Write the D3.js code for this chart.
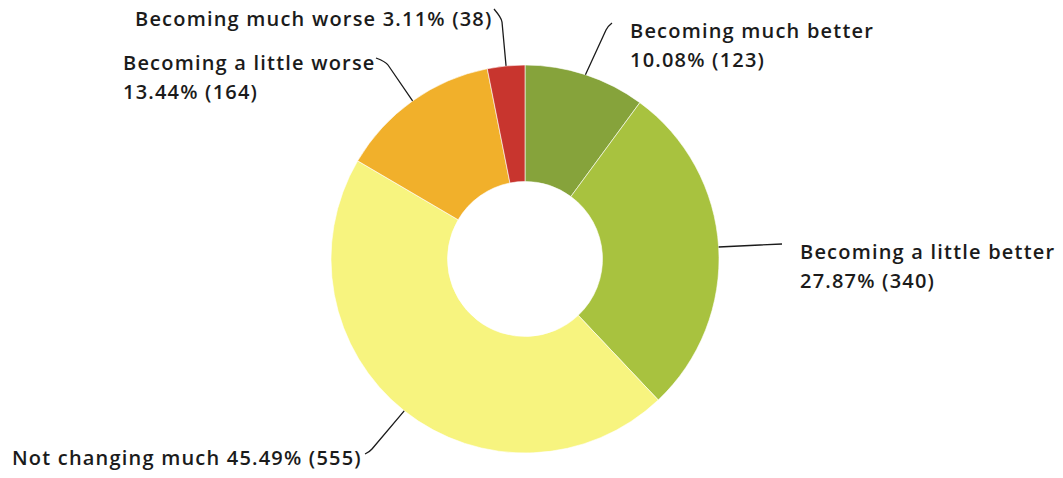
<!DOCTYPE html>
<html>
<head>
<meta charset="utf-8">
<script src="https://cdn.jsdelivr.net/npm/d3@7"></script>
<style>
  body { margin: 0; background: #fff; }
  text { font-family: "Open Sans", sans-serif; font-weight: 600; font-size: 20px; letter-spacing: 1.2px; fill: #1b1b1b; }
</style>
</head>
<body>
<div id="chart"></div>
<script>
var categories = ["Becoming much better", "Becoming a little better", "Not changing much", "Becoming a little worse", "Becoming much worse"];
var counts = [123, 340, 555, 164, 38];
var percents = ["10.08%", "27.87%", "45.49%", "13.44%", "3.11%"];
var colors = ["#86a33b", "#a8c23f", "#f7f47f", "#f1b02b", "#c8352e"];

// label placement (layout only): text anchor, second line or not, leader elbow and end
var labelLayout = [
    { x: 630, y: 38, twoLines: true, elbow: [606, 30], end: [612, 23] },
    { x: 800, y: 259, twoLines: true, elbow: [760, 245], end: [782, 244] },
    { x: 12, y: 465, twoLines: false, elbow: [372, 449], end: [365, 454] },
    { x: 123, y: 70, twoLines: true, elbow: [388, 65], end: [376, 58] },
    { x: 135, y: 26, twoLines: false, elbow: [502, 22], end: [494, 9] }
];

var width = 1063, height = 478;
var cx = 525, cy = 259, outerR = 194, innerR = 77.5;

var svg = d3.select("#chart").append("svg")
    .attr("width", width)
    .attr("height", height);

var data = categories.map(function(c, i) {
    return { name: c, count: counts[i], pct: percents[i], color: colors[i], layout: labelLayout[i] };
});

var pie = d3.pie()
    .sort(null)
    .value(function(d) { return d.count; });

var arc = d3.arc()
    .innerRadius(innerR)
    .outerRadius(outerR);

var arcs = pie(data);

var g = svg.append("g")
    .attr("transform", "translate(" + cx + "," + cy + ")");

g.selectAll("path.slice")
    .data(arcs)
    .enter()
    .append("path")
        .attr("class", "slice")
        .attr("d", arc)
        .style("fill", function(d) { return d.data.color; })
        .style("stroke", "#ffffff")
        .style("stroke-width", 0.6);

// leader lines
svg.selectAll("path.leader")
    .data(arcs)
    .enter()
    .append("path")
        .attr("class", "leader")
        .attr("d", function(d) {
            var a = (d.startAngle + d.endAngle) / 2;
            var sx = cx + outerR * Math.sin(a),
                sy = cy - outerR * Math.cos(a);
            var e = d.data.layout.elbow, t = d.data.layout.end;
            var dx = e[0] - sx, dy = e[1] - sy, len = Math.sqrt(dx * dx + dy * dy);
            var p = d3.path();
            p.moveTo(sx, sy);
            p.lineTo(e[0], e[1]);
            p.quadraticCurveTo(e[0] + dx / len * 4, e[1] + dy / len * 4, t[0], t[1]);
            return p.toString();
        })
        .style("fill", "none")
        .style("stroke", "#1b1b1b")
        .style("stroke-width", 1.3);

// labels
var labels = svg.selectAll("text.label")
    .data(arcs)
    .enter()
    .append("text")
        .attr("class", "label")
        .attr("x", function(d) { return d.data.layout.x; })
        .attr("y", function(d) { return d.data.layout.y; });

labels.each(function(d) {
    var t = d3.select(this);
    var rest = d.data.pct + " (" + d.data.count + ")";
    if (d.data.layout.twoLines) {
        t.append("tspan").text(d.data.name);
        t.append("tspan")
            .attr("x", d.data.layout.x)
            .attr("dy", 29)
            .text(rest);
    } else {
        t.text(d.data.name + " " + rest);
    }
});
</script>
</body>
</html>
